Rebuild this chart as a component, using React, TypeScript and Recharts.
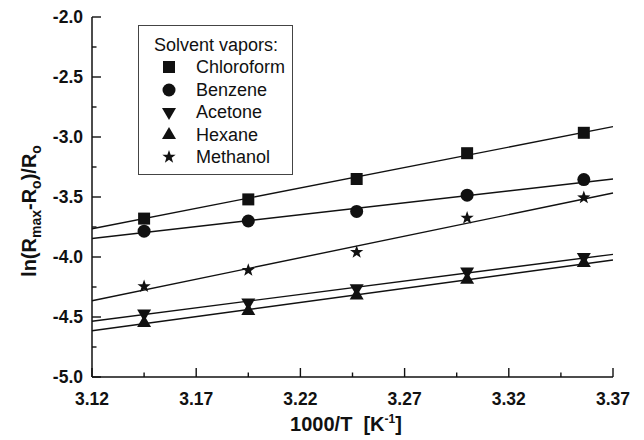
import React from 'react';
import { ScatterChart, Scatter, XAxis, YAxis, ReferenceLine, Legend } from 'recharts';

// 1000/T values of the measurement temperatures
const invT = [3.145, 3.195, 3.247, 3.3, 3.356];

// ln((Rmax - Ro)/Ro) per solvent
const chloroform = [-3.68, -3.52, -3.35, -3.135, -2.965];
const benzene = [-3.785, -3.7, -3.62, -3.485, -3.355];
const acetone = [-4.47, -4.38, -4.26, -4.12, -4.0];
const hexane = [-4.55, -4.45, -4.32, -4.19, -4.05];
const methanol = [-4.245, -4.11, -3.96, -3.675, -3.505];

// fitted straight lines, read at the two ends of the x range
const fitX = [3.12, 3.37];
const chloroformFit = [-3.765, -2.914];
const benzeneFit = [-3.846, -3.35];
const acetoneFit = [-4.535, -3.978];
const hexaneFit = [-4.615, -4.025];
const methanolFit = [-4.365, -3.467];

const xTicks = [3.12, 3.145, 3.17, 3.195, 3.22, 3.245, 3.27, 3.295, 3.32, 3.345, 3.37];
const xMajor = [3.12, 3.17, 3.22, 3.27, 3.32, 3.37];
const yTicks = [-5, -4.75, -4.5, -4.25, -4, -3.75, -3.5, -3.25, -3, -2.75, -2.5, -2.25, -2];
const yMajor = [-5, -4.5, -4, -3.5, -3, -2.5, -2];

const seriesNames = ['Chloroform', 'Benzene', 'Acetone', 'Hexane', 'Methanol'];
const legendTitle = 'Solvent vapors:';

const FONT = '"Liberation Sans", Arial, Helvetica, sans-serif';
const INK = '#111';

const toPoints = (ys: number[]) => invT.map((x, i) => ({ x, y: ys[i] }));
const isIn = (v: number, arr: number[]) => arr.some((m) => Math.abs(m - v) < 1e-6);

// ----- marker shapes -----
const SquareM = ({ cx, cy }: any) => <rect x={cx - 6} y={cy - 6} width={12} height={12} fill={INK} />;
const CircleM = ({ cx, cy }: any) => <circle cx={cx} cy={cy} r={6.5} fill={INK} />;
const TriDownM = ({ cx, cy }: any) => {
  const h = 12, w = 14;
  return <polygon points={`${cx - w / 2},${cy - h / 3} ${cx + w / 2},${cy - h / 3} ${cx},${cy + (2 * h) / 3}`} fill={INK} />;
};
const TriUpM = ({ cx, cy }: any) => {
  const h = 12, w = 14;
  return <polygon points={`${cx - w / 2},${cy + h / 3} ${cx + w / 2},${cy + h / 3} ${cx},${cy - (2 * h) / 3}`} fill={INK} />;
};
const StarM = ({ cx, cy }: any) => {
  const R = 7, r = 2.8;
  const pts: string[] = [];
  for (let i = 0; i < 10; i++) {
    const a = -Math.PI / 2 + (i * Math.PI) / 5;
    const rad = i % 2 === 0 ? R : r;
    pts.push(`${cx + rad * Math.cos(a)},${cy + rad * Math.sin(a)}`);
  }
  return <polygon points={pts.join(' ')} fill={INK} />;
};

const shapes = [SquareM, CircleM, TriDownM, TriUpM, StarM];

// ----- ticks (drawn inward) -----
const BottomTick = (props: any) => {
  const { x, y, payload } = props;
  const major = isIn(payload.value, xMajor);
  return (
    <g>
      <line x1={x} x2={x} y1={y} y2={y - (major ? 9 : 4.5)} stroke={INK} strokeWidth={1.4} />
      {major && (
        <text x={x} y={y + 28} textAnchor="middle" fontFamily={FONT} fontWeight="bold" fontSize={17.5} fill={INK}>
          {payload.value.toFixed(2)}
        </text>
      )}
    </g>
  );
};
const TopTick = (props: any) => {
  const { x, y } = props;
  return <line x1={x} x2={x} y1={y} y2={y + 4.5} stroke={INK} strokeWidth={1.4} />;
};
const LeftTick = (props: any) => {
  const { x, y, payload } = props;
  const major = isIn(payload.value, yMajor);
  return (
    <g>
      <line x1={x} x2={x + (major ? 9 : 4.5)} y1={y} y2={y} stroke={INK} strokeWidth={1.4} />
      {major && (
        <text x={x - 9} y={y + 6} textAnchor="end" fontFamily={FONT} fontWeight="bold" fontSize={17.5} fill={INK}>
          {payload.value.toFixed(1)}
        </text>
      )}
    </g>
  );
};
const RightTick = (props: any) => {
  const { x, y } = props;
  return <line x1={x} x2={x - 4.5} y1={y} y2={y} stroke={INK} strokeWidth={1.4} />;
};

const LegendBox = () => (
  <div
    style={{
      position: 'relative',
      width: 155,
      height: 150,
      border: '1.3px solid #444',
      background: '#fff',
      boxSizing: 'border-box',
      fontFamily: FONT,
      fontSize: 18,
      color: INK,
    }}
  >
    <div style={{ position: 'absolute', left: 15, top: 9, lineHeight: '21px', whiteSpace: 'nowrap' }}>{legendTitle}</div>
    {seriesNames.map((name, i) => {
      const Shape = shapes[i];
      const top = 30 + i * 22.5;
      return (
        <div key={name} style={{ position: 'absolute', left: 0, top, height: 22, width: 150 }}>
          <svg width={20} height={20} style={{ position: 'absolute', left: 20, top: 1 }}>
            <Shape cx={10} cy={10} />
          </svg>
          <div style={{ position: 'absolute', left: 57, top: 0, lineHeight: '22px', whiteSpace: 'nowrap' }}>{name}</div>
        </div>
      );
    })}
  </div>
);

const YTitle = () => (
  <text
    x={36}
    y={211}
    transform="rotate(-90, 36, 211)"
    textAnchor="middle"
    fontFamily={FONT}
    fontWeight="bold"
    fontSize={20}
    fill={INK}
  >
    <tspan>ln(R</tspan>
    <tspan fontSize={14} dy={5}>max</tspan>
    <tspan dy={-5}>-R</tspan>
    <tspan fontSize={14} dy={5}>o</tspan>
    <tspan dy={-5}>)/R</tspan>
    <tspan fontSize={14} dy={5}>o</tspan>
  </text>
);

const XTitle = () => (
  <text x={346} y={431} textAnchor="middle" fontFamily={FONT} fontWeight="bold" fontSize={20} fill={INK}>
    <tspan>{'1000/T\u00A0\u00A0[K'}</tspan>
    <tspan fontSize={12} dy={-8}>-1</tspan>
    <tspan dy={8}>]</tspan>
  </text>
);

const fits = [chloroformFit, benzeneFit, acetoneFit, hexaneFit, methanolFit];
const seriesData = [chloroform, benzene, acetone, hexane, methanol];

export default function App() {
  return (
    <div style={{ position: 'absolute', left: 0, top: 0, width: 644, height: 440, background: '#fff' }}>
      <ScatterChart width={644} height={440} margin={{ top: 17, right: 31, bottom: 13, left: 10 }}>
        <XAxis
          xAxisId="b"
          dataKey="x"
          type="number"
          domain={[3.12, 3.37]}
          ticks={xTicks}
          interval={0}
          allowDataOverflow
          height={50}
          tickSize={0}
          tickMargin={0}
          tickLine={false}
          axisLine={{ stroke: INK, strokeWidth: 1.5 }}
          tick={<BottomTick />}
          label={{ content: () => <XTitle /> }}
        />
        <XAxis
          xAxisId="t"
          orientation="top"
          dataKey="x"
          type="number"
          domain={[3.12, 3.37]}
          ticks={xTicks}
          interval={0}
          allowDataOverflow
          height={0}
          tickSize={0}
          tickMargin={0}
          tickLine={false}
          axisLine={{ stroke: INK, strokeWidth: 1.5 }}
          tick={<TopTick />}
        />
        <YAxis
          yAxisId="l"
          dataKey="y"
          type="number"
          domain={[-5, -2]}
          ticks={yTicks}
          interval={0}
          allowDataOverflow
          width={82}
          tickSize={0}
          tickMargin={0}
          tickLine={false}
          axisLine={{ stroke: INK, strokeWidth: 1.5 }}
          tick={<LeftTick />}
          label={{ content: () => <YTitle /> }}
        />
        <YAxis
          yAxisId="r"
          orientation="right"
          dataKey="y"
          type="number"
          domain={[-5, -2]}
          ticks={yTicks}
          interval={0}
          allowDataOverflow
          width={0}
          tickSize={0}
          tickMargin={0}
          tickLine={false}
          axisLine={{ stroke: INK, strokeWidth: 1.5 }}
          tick={<RightTick />}
        />
        {fits.map((f, i) => (
          <ReferenceLine
            key={'fit' + i}
            xAxisId="b"
            yAxisId="l"
            segment={[
              { x: fitX[0], y: f[0] },
              { x: fitX[1], y: f[1] },
            ]}
            stroke={INK}
            strokeWidth={1.4}
            ifOverflow="visible"
          />
        ))}
        {seriesData.map((d, i) => (
          <Scatter
            key={seriesNames[i]}
            name={seriesNames[i]}
            xAxisId="b"
            yAxisId="l"
            data={toPoints(d)}
            shape={shapes[i]}
            isAnimationActive={false}
          />
        ))}
        <Legend
          layout="horizontal"
          verticalAlign="middle"
          align="center"
          wrapperStyle={{ left: 138, top: 25, width: 'auto', height: 'auto' }}
          content={() => <LegendBox />}
        />
      </ScatterChart>
    </div>
  );
}
